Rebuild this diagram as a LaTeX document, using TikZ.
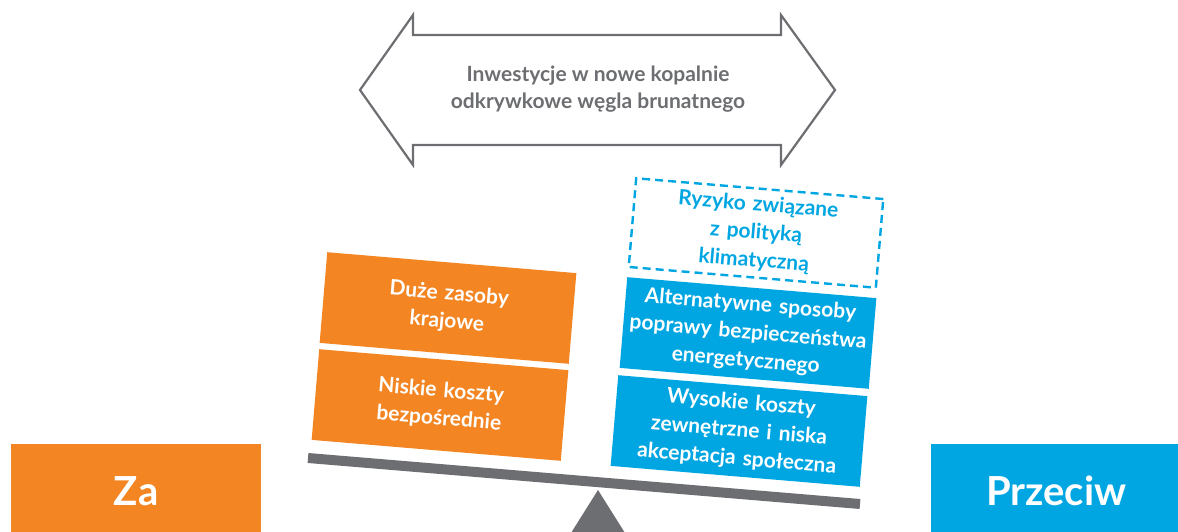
\documentclass[tikz,border=0pt]{standalone}
\usepackage{fontspec}
\setmainfont{Lato}
\definecolor{orng}{RGB}{243,133,34}
\definecolor{blu}{RGB}{0,166,226}
\definecolor{gry}{RGB}{109,110,113}
\begin{document}
\begin{tikzpicture}[x=1pt,y=1pt,
  card/.style={rotate=-4.8, minimum width=250pt, minimum height=91pt, inner sep=0pt,
    text width=245pt, align=center, text=white, font=\bfseries\fontsize{21}{28}\selectfont},
  orcard/.style={card, fill=orng},
  blcard/.style={card, fill=blu},
  dashcard/.style={card, draw=blu, line width=2.4pt, dash pattern=on 8pt off 5pt, text=blu, minimum width=248pt, minimum height=89pt},
  side/.style={minimum width=250pt, minimum height=95pt, inner sep=0pt, text=white, font=\bfseries\fontsize{40}{42}\selectfont}]
\useasboundingbox (0,0) rectangle (1178,531);
% double arrow
\draw[gry, line width=2.2pt, line join=miter]
  (360,441) -- (413,516) -- (413,496) -- (781,496) -- (781,516) -- (835,441)
  -- (781,366) -- (781,386) -- (413,386) -- (413,366) -- cycle;
\node[text=gry, align=center, font=\bfseries\fontsize{21}{27}\selectfont] (inv) at (598,442)
  {Inwestycje w nowe kopalnie\\odkrywkowe węgla brunatnego};
% side labels
\node[side, fill=orng, anchor=south west] (za) at (11,-8) {Za};
\node[side, fill=blu, anchor=south west, minimum width=262pt] (prz) at (931,-8) {\hspace*{-12pt}Przeciw};
% beam and fulcrum
\fill[gry] (598,41) -- (625,-2) -- (571,-2) -- cycle;
\draw[gry, line width=10pt] (308,73) -- (860,27);
% cards
\node[orcard] (l1) at (448,223) {Duże zasoby\\krajowe};
\node[orcard] (l2) at (440,126) {Niskie koszty\\bezpośrednie};
\node[dashcard] (r0) at (756,298) {Ryzyko związane\\z polityką\\klimatyczną};
\node[blcard] (r1) at (748,198) {Alternatywne sposoby\\poprawy bezpieczeństwa\\energetycznego};
\node[blcard] (r2) at (739,100) {Wysokie koszty\\zewnętrzne i niska\\akceptacja społeczna};
\end{tikzpicture}
\end{document}
